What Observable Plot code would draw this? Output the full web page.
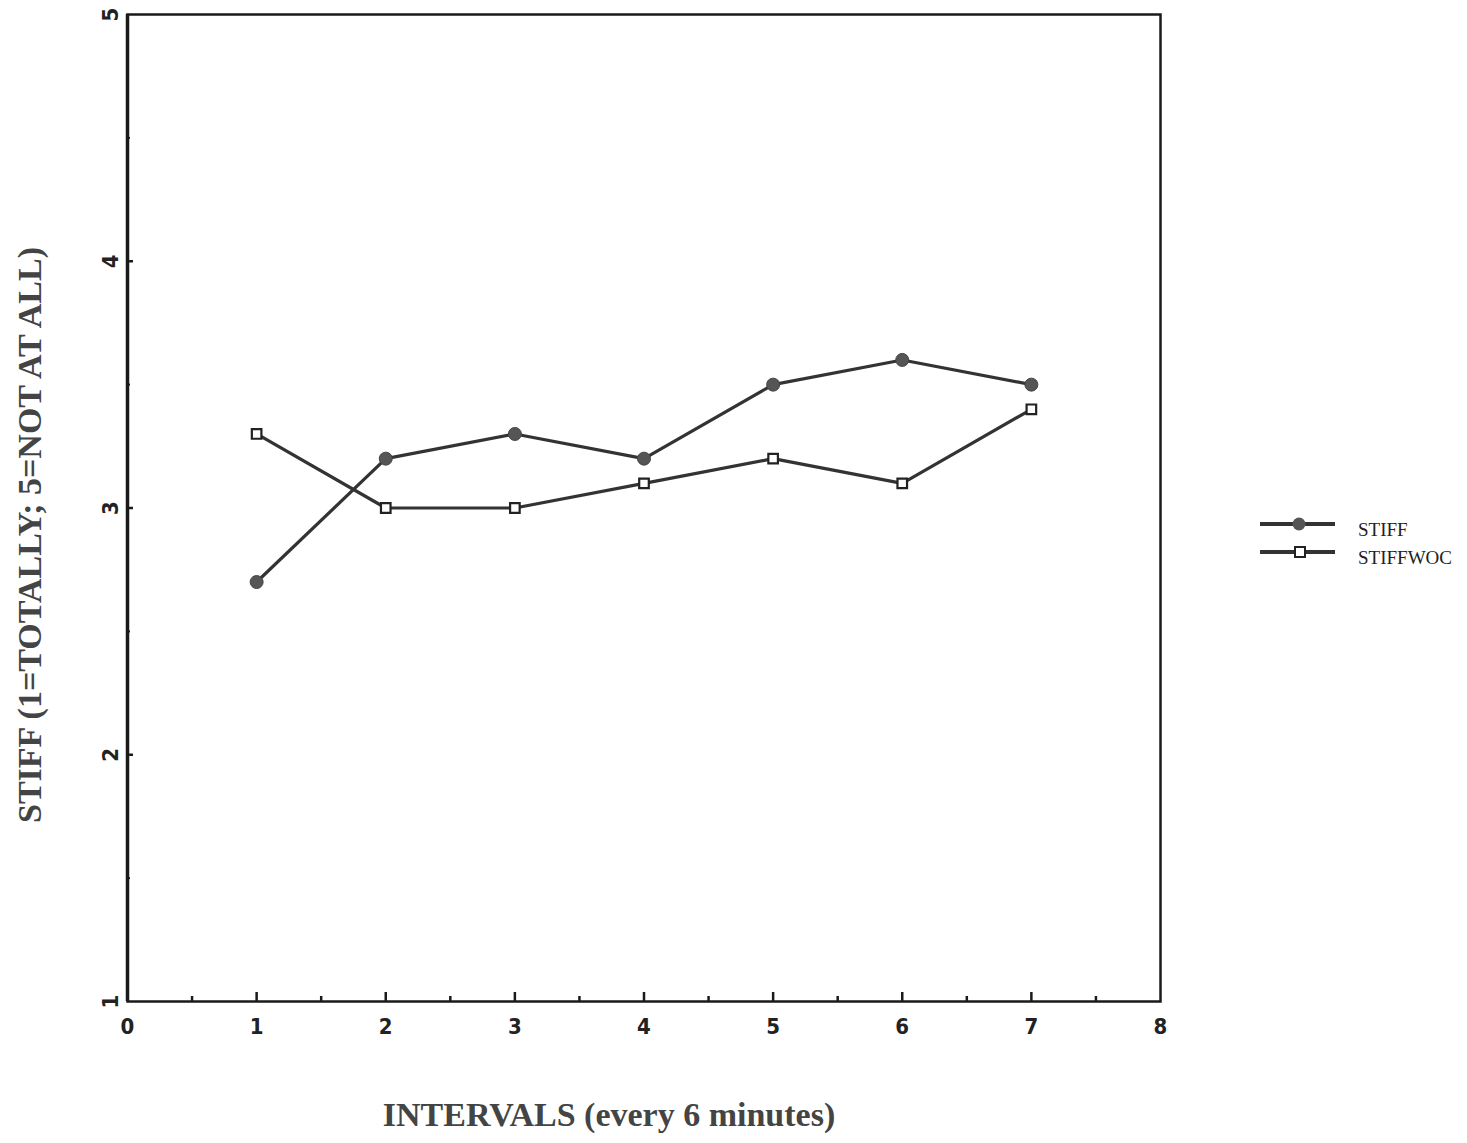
<!DOCTYPE html>
<html>
<head>
<meta charset="utf-8">
<script src="https://cdn.jsdelivr.net/npm/d3@7"></script>
<script src="https://cdn.jsdelivr.net/npm/@observablehq/plot@0.6"></script>
<style>
  html, body { margin: 0; padding: 0; background: #fff; }
  #wrap { position: relative; width: 1467px; height: 1143px; }
  #legend { position: absolute; left: 1250px; top: 507px; }
</style>
</head>
<body>
<div id="wrap"></div>
<script>
// Mean stiffness rating per 6-minute interval
const intervals = [1, 2, 3, 4, 5, 6, 7];
const stiff     = [2.7, 3.2, 3.3, 3.2, 3.5, 3.6, 3.5];
const stiffwoc  = [3.3, 3.0, 3.0, 3.1, 3.2, 3.1, 3.4];
const seriesNames = ["STIFF", "STIFFWOC"];

const xTicks = [0, 1, 2, 3, 4, 5, 6, 7, 8];
const xMinor = [0.5, 1.5, 2.5, 3.5, 4.5, 5.5, 6.5, 7.5];
const yTicks = [1, 2, 3, 4, 5];
const yMinor = [1.5, 2.5, 3.5, 4.5];

const xTitle = "INTERVALS (every 6 minutes)";
const yTitle = "STIFF (1=TOTALLY; 5=NOT AT ALL)";

const W = 1467, H = 1143;
const mL = 127, mR = 307, mT = 14, mB = 142;
const xDomain = [0, 8], yDomain = [1, 5];
const pxPerX = (W - mL - mR) / (xDomain[1] - xDomain[0]);
const pxPerY = (H - mT - mB) / (yDomain[1] - yDomain[0]);

const rows = [
  ...intervals.map((x, i) => ({series: seriesNames[0], x, y: stiff[i]})),
  ...intervals.map((x, i) => ({series: seriesNames[1], x, y: stiffwoc[i]}))
];

const tickFont = "'DejaVu Sans Condensed', 'DejaVu Sans', sans-serif";
const titleFont = "'Liberation Serif', 'DejaVu Serif', serif";
const ink = "#1a1a1a";

const chart = Plot.plot({
  width: W, height: H,
  marginLeft: mL, marginRight: mR, marginTop: mT, marginBottom: mB,
  x: {domain: xDomain, axis: null},
  y: {domain: yDomain, axis: null},
  marks: [
    Plot.frame({stroke: ink, strokeWidth: 2.5}),
    Plot.ruleX([xDomain[0]], {stroke: ink, strokeWidth: 3.5}),
    // inward ticks
    Plot.ruleX(xTicks.slice(1, -1), {x: d => d, y1: yDomain[0], y2: yDomain[0] + 9 / pxPerY, stroke: ink, strokeWidth: 2.5}),
    Plot.ruleX(xMinor, {x: d => d, y1: yDomain[0], y2: yDomain[0] + 5 / pxPerY, stroke: ink, strokeWidth: 2.5}),
    Plot.ruleY(yTicks.slice(1, -1), {y: d => d, x1: xDomain[0], x2: xDomain[0] + 6 / pxPerX, stroke: ink, strokeWidth: 2.5}),
    Plot.ruleY(yMinor, {y: d => d, x1: xDomain[0], x2: xDomain[0] + 3 / pxPerX, stroke: ink, strokeWidth: 2}),
    // tick labels
    Plot.text(xTicks, {x: d => d, frameAnchor: "bottom", dy: 25, text: d => String(d),
      fontFamily: tickFont, fontWeight: "bold", fontSize: 22, fill: "#222", lineAnchor: "middle"}),
    Plot.text(yTicks, {y: d => d, frameAnchor: "left", dx: -17, rotate: -90, text: d => String(d),
      textAnchor: "middle", fontFamily: tickFont, fontWeight: "bold", fontSize: 22, fill: "#222", lineAnchor: "middle"}),
    // axis titles
    Plot.text([xTitle], {frameAnchor: "bottom", dx: -35, dy: 114, text: d => d, textAnchor: "middle",
      fontFamily: titleFont, fontWeight: "bold", fontSize: 34, fill: "#444", lineAnchor: "middle"}),
    Plot.text([yTitle], {frameAnchor: "left", dx: -97, dy: 27, rotate: -90, text: d => d, textAnchor: "middle",
      fontFamily: titleFont, fontWeight: "bold", fontSize: 34, fill: "#444", lineAnchor: "middle"}),
    // series
    Plot.line(rows, {x: "x", y: "y", z: "series", stroke: "#333", strokeWidth: 3.2}),
    Plot.dot(rows.filter(d => d.series === seriesNames[0]), {x: "x", y: "y", r: 6.5, fill: "#555", stroke: "#444", strokeWidth: 1}),
    Plot.dot(rows.filter(d => d.series === seriesNames[1]), {x: "x", y: "y", symbol: "square", r: 5.4, fill: "#fff", stroke: "#222", strokeWidth: 2.2})
  ]
});

const wrap = document.getElementById("wrap");
wrap.appendChild(chart);

// legend
const leg = d3.select(wrap).append("svg").attr("id", "legend").attr("width", 215).attr("height", 70);
seriesNames.forEach((name, i) => {
  const cy = 17 + i * 28;
  const g = leg.append("g");
  g.append("line").attr("x1", 10).attr("x2", 85).attr("y1", cy).attr("y2", cy)
    .attr("stroke", "#333").attr("stroke-width", 4);
  if (i === 0) {
    g.append("circle").attr("cx", 49).attr("cy", cy).attr("r", 6.5).attr("fill", "#555");
  } else {
    g.append("rect").attr("x", 45).attr("y", cy - 5).attr("width", 10).attr("height", 10)
      .attr("fill", "#fff").attr("stroke", "#222").attr("stroke-width", 2);
  }
  g.append("text").attr("x", 108).attr("y", cy + 12).text(name)
    .attr("font-family", titleFont).attr("font-size", 19).attr("fill", "#222");
});
</script>
</body>
</html>
